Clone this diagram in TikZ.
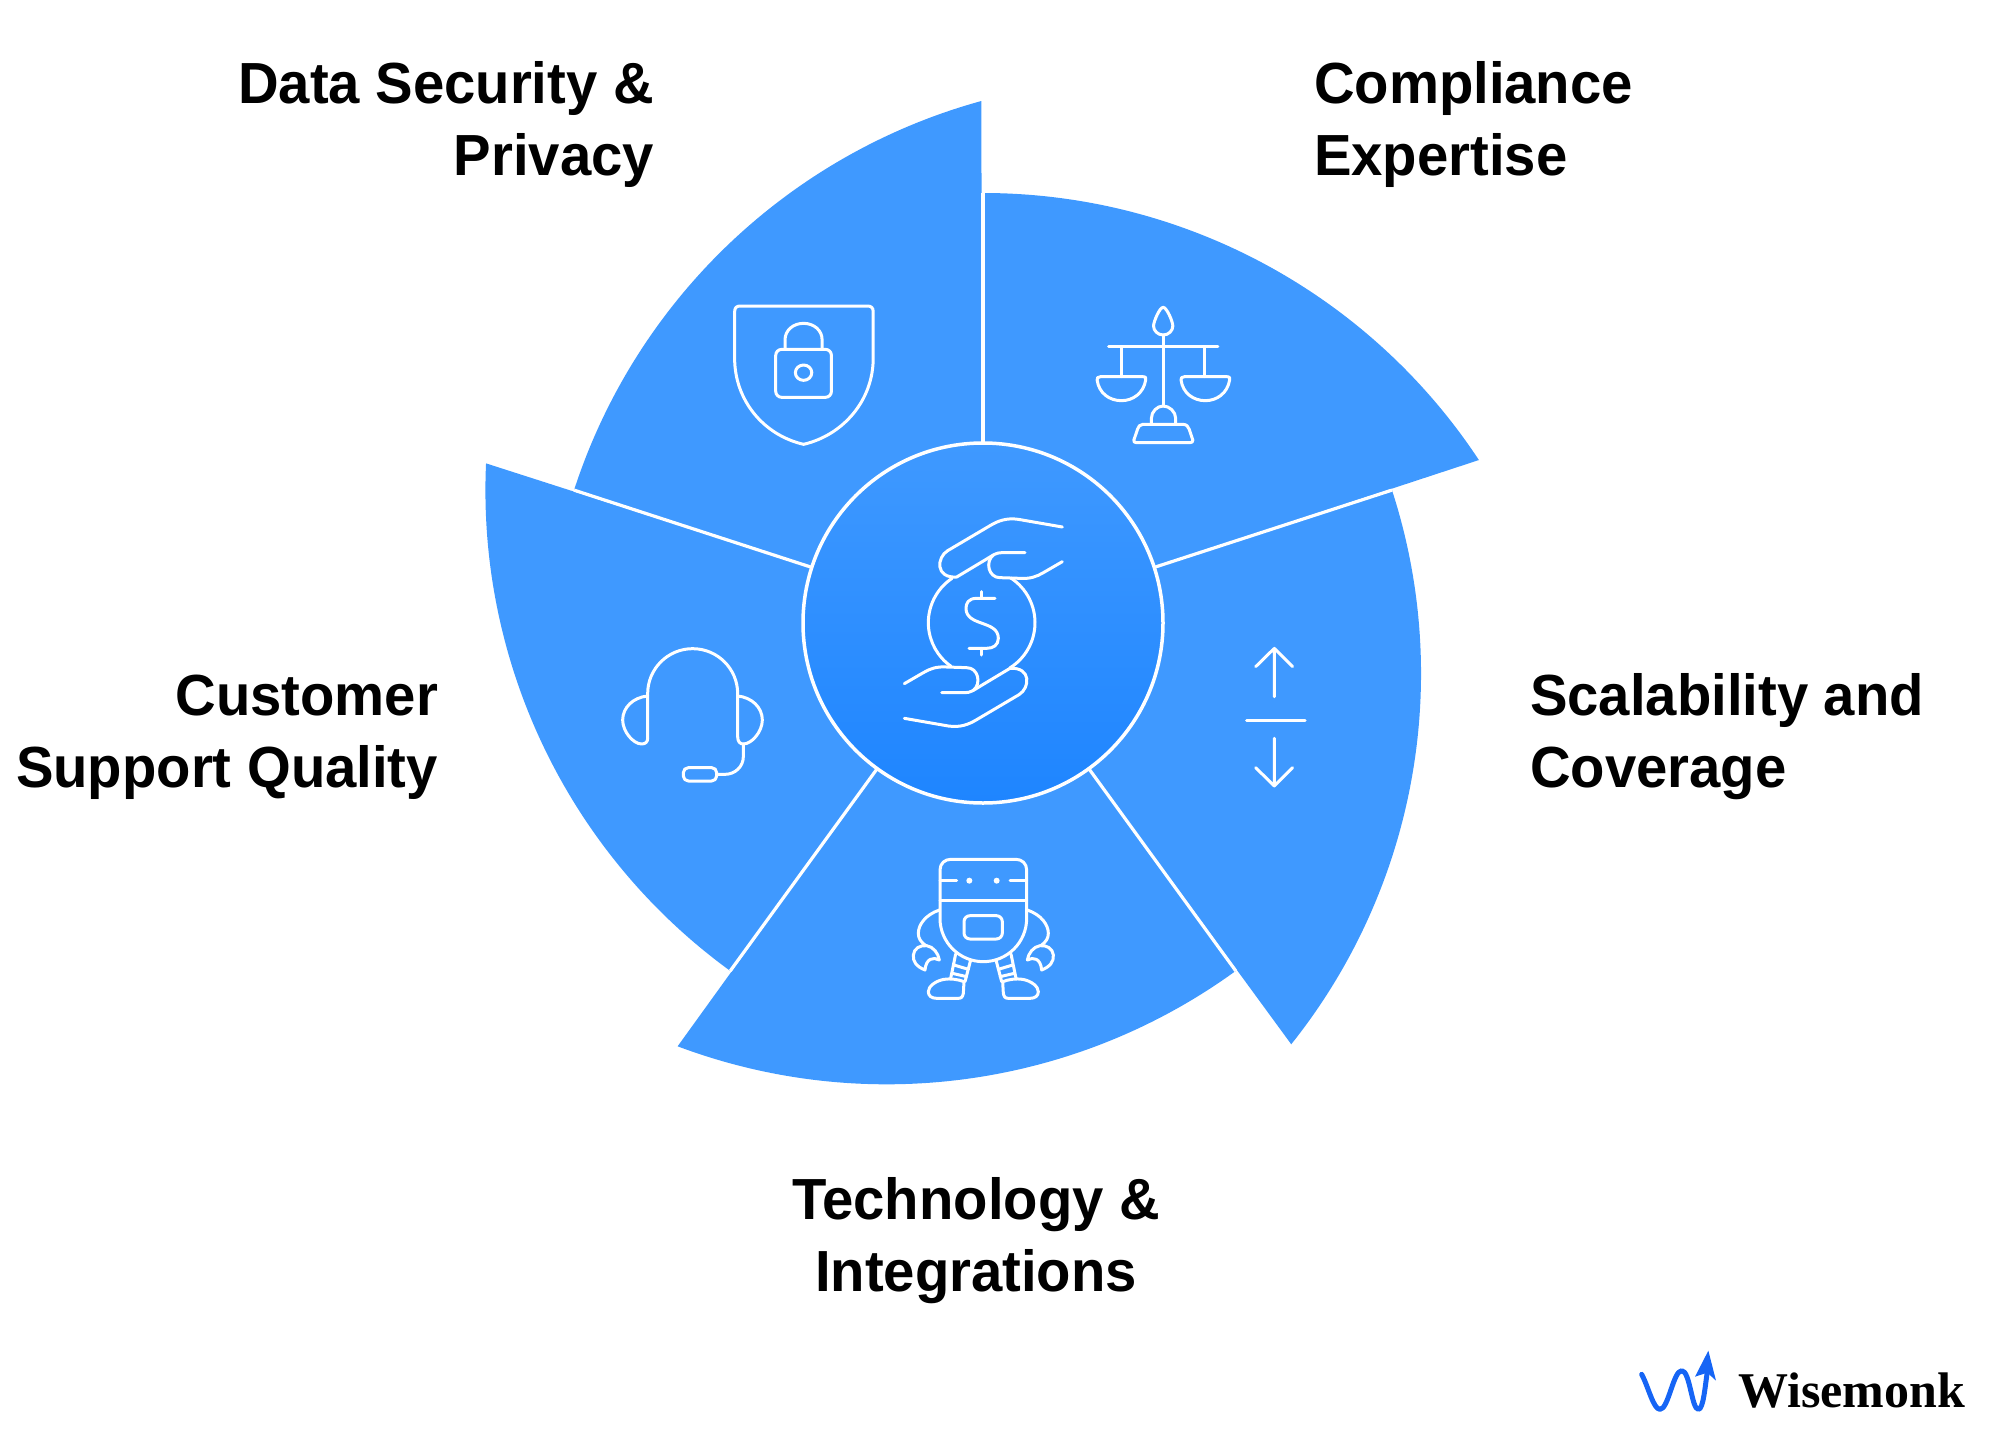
\documentclass[tikz,border=0pt]{standalone}
\usepackage{fontspec}
\setmainfont{Liberation Sans}
\newfontfamily\labelfont[FakeStretch=0.97]{Liberation Sans}
\newfontfamily\brandfont{Liberation Serif}
\definecolor{wedgeblue}{RGB}{63,153,255}
\definecolor{hubtop}{RGB}{63,153,255}
\definecolor{hubbottom}{RGB}{30,133,255}
\definecolor{logoblue}{RGB}{22,101,245}
\tikzset{
  wedge/.style={fill=wedgeblue,draw=none},
  divider/.style={draw=white,line width=3.2pt},
  icon/.style={draw=white,line width=3pt,line cap=round,line join=round},
  caption/.style={inner sep=0pt,outer sep=0pt,font=\labelfont\bfseries\fontsize{58}{72}\selectfont},
}
\begin{document}
\begin{tikzpicture}[x=1pt,y=-1pt]
\useasboundingbox (0,0) rectangle (1992,1443);
% wedges
\foreach \k in {0,1,2,3,4}{
  \begin{scope}[shift={(983,623)},y=1pt,rotate=-72*\k]
    \path[wedge] (0,0) -- (0,430) arc[start angle=90,end angle=33.4,radius=594pt] -- cycle;
  \end{scope}
}
\foreach \k in {0,1,2,3,4}{
  \begin{scope}[shift={(983,623)},y=1pt,rotate=-72*\k]
    \draw[divider] (0,150) -- (0,430);
  \end{scope}
}
\node[circle,minimum size=360pt,inner sep=0pt,draw=white,line width=3.5pt,top color=hubtop,bottom color=hubbottom] (hub) at (983,623) {};
% hub icon
\begin{scope}[shift={(780,430)},scale=1/3]
  \foreach \a in {0,180}{
    \begin{scope}[rotate around={\a:(610,578)}]
      \draw[icon] (847,291) -- (715,268) .. controls (680,263) and (655,272) .. (630,287) -- (503,362) .. controls (470,382) and (465,445) .. (530,441) -- (620,387) .. controls (640,375) and (648,368) .. (665,368) -- (735,368);
      \draw[icon] (640,375) .. controls (615,395) and (625,443) .. (660,443) -- (720,445) .. controls (750,447) and (770,440) .. (790,428) -- (847,395);
    \end{scope}
  }
  \draw[icon] (605,578) ++(124:160pt) arc[start angle=124,end angle=235,radius=160pt];
  \draw[icon] (605,578) ++(57:160pt) arc[start angle=57,end angle=-58,radius=160pt];
  \draw[icon] (645,505) -- (590,505) .. controls (565,505) and (558,520) .. (558,535) .. controls (558,590) and (655,570) .. (655,625) .. controls (655,645) and (640,655) .. (620,655) -- (567,655);
  \draw[icon] (605,485) -- (605,505) (605,655) -- (605,675);
\end{scope}
% shield and scales
\begin{scope}[shift={(690,280)},xscale=1/2.8,yscale=1/3]
  \draw[icon] (125,235) -- (125,95) .. controls (125,84) and (130,78) .. (140,78) -- (497,78) .. controls (508,78) and (513,84) .. (513,95) -- (513,235) .. controls (513,360) and (430,465) .. (318,493) .. controls (205,465) and (125,360) .. (125,235) -- cycle;
  \draw[icon,rounded corners=6pt] (240,208) rectangle (396,352);
  \draw[icon] (266,205) -- (266,180) .. controls (266,150) and (290,130) .. (318,130) .. controls (346,130) and (370,150) .. (370,180) -- (370,205);
  \draw[icon] (318,278) circle[radius=23pt];
  \draw[icon] (1325,82) .. controls (1335,82) and (1352,125) .. (1352,138) .. controls (1352,152) and (1340,165) .. (1325,165) .. controls (1310,165) and (1298,152) .. (1298,138) .. controls (1298,125) and (1315,82) .. (1325,82) -- cycle;
  \draw[icon] (1325,165) -- (1325,378) (1172,200) -- (1478,200) (1207,200) -- (1207,290) (1442,200) -- (1442,290);
  \foreach \d in {0,235}{
    \begin{scope}[xshift=\d]
      \draw[icon] (1150,290) -- (1268,290) .. controls (1278,290) and (1277,296) .. (1276,300) .. controls (1270,340) and (1240,362) .. (1208,362) .. controls (1175,362) and (1145,340) .. (1140,300) .. controls (1139,294) and (1142,290) .. (1150,290) -- cycle;
    \end{scope}
  }
  \draw[icon] (1292,432) -- (1292,415) .. controls (1292,395) and (1308,378) .. (1325,378) .. controls (1342,378) and (1360,395) .. (1360,415) -- (1360,432);
  \draw[icon] (1268,433) -- (1380,433) .. controls (1390,433) and (1396,440) .. (1398,448) -- (1408,480) .. controls (1409,485) and (1405,488) .. (1400,488) -- (1250,488) .. controls (1245,488) and (1241,485) .. (1243,480) -- (1253,448) .. controls (1255,440) and (1260,433) .. (1268,433) -- cycle;
\end{scope}
% headset
\begin{scope}[shift={(600,620)},scale=1/3]
  \draw[icon] (143,355) -- (143,221) arc[start angle=180,end angle=0,radius=135pt] -- (413,350);
  \draw[icon] (143,228) .. controls (100,232) and (68,262) .. (68,300) .. controls (68,335) and (100,372) .. (125,372) .. controls (137,372) and (143,365) .. (143,355);
  \draw[icon] (413,228) .. controls (455,232) and (487,262) .. (487,300) .. controls (487,335) and (455,372) .. (430,372) .. controls (420,372) and (413,365) .. (413,350);
  \draw[icon] (430,372) -- (430,410) .. controls (430,440) and (405,463) .. (375,463) -- (350,463);
  \draw[icon,rounded corners=5pt] (250,443) rectangle (350,483);
\end{scope}
% arrows
\begin{scope}[shift={(1220,630)},scale=1/3]
  \draw[icon] (163,200) -- (163,55) (107,110) -- (163,55) -- (218,110);
  \draw[icon] (80,271) -- (255,271);
  \draw[icon] (163,325) -- (163,468) (107,413) -- (163,468) -- (218,413);
\end{scope}
% robot
\begin{scope}[shift={(900,850)},scale=1/3]
  \draw[icon] (120,205) -- (120,60) .. controls (120,40) and (135,28) .. (152,28) -- (348,28) .. controls (365,28) and (380,40) .. (380,60) -- (380,205) arc[start angle=0,end angle=-180,radius=130pt];
  \draw[icon] (120,150) -- (380,150) (120,92) -- (170,92) (330,92) -- (380,92);
  \fill[white] (208,92) circle[radius=9pt] (290,92) circle[radius=9pt];
  \draw[icon,rounded corners=6pt] (192,197) rectangle (307,267);
  \foreach \s in {1,-1}{
    \begin{scope}[shift={(250,0)},xscale=\s]
      \draw[icon] (-132,180) .. controls (-175,195) and (-195,225) .. (-195,250) .. controls (-195,265) and (-188,275) .. (-175,285);
      \draw[icon] (-175,360) .. controls (-200,350) and (-212,335) .. (-210,315) .. controls (-208,295) and (-190,285) .. (-170,287) .. controls (-150,290) and (-135,310) .. (-132,330) .. controls (-150,320) and (-172,325) .. (-175,360) -- cycle;
      \draw[icon] (-83,312) -- (-98,385) (-38,330) -- (-55,395) (-88,345) -- (-45,358) (-93,370) -- (-50,380);
      \draw[icon] (-58,395) .. controls (-75,388) and (-100,385) .. (-118,388) .. controls (-145,393) and (-165,410) .. (-165,425) .. controls (-165,438) and (-155,445) .. (-140,445) -- (-75,445) .. controls (-65,445) and (-62,440) .. (-60,430) -- (-58,395) -- cycle;
    \end{scope}
  }
\end{scope}
% labels (the base of a two-line node is the base of its last line)
\node[caption,align=right,anchor=base east] (l1) at (654,175) {Data Security \&\\Privacy};
\node[caption,align=left,anchor=base west] (l2) at (1314,175) {Compliance\\Expertise};
\node[caption,align=right,anchor=base east] (l3) at (438,787) {Customer\\Support Quality};
\node[caption,align=left,anchor=base west] (l4) at (1530,787) {Scalability and\\Coverage};
\node[caption,align=center,anchor=base] (l5) at (976,1291) {Technology \&\\Integrations};
% logo
\begin{scope}[shift={(1620,1330)},scale=1/3]
  \draw[draw=logoblue,line width=5pt,line cap=round,line join=round] (65,133) .. controls (85,170) and (100,238) .. (120,238) .. controls (145,238) and (160,122) .. (185,122) .. controls (210,122) and (215,238) .. (235,238) .. controls (250,238) and (255,170) .. (262,125);
  \fill[logoblue] (265,62) -- (288,152) -- (262,128) -- (225,140) -- cycle;
\end{scope}
\node[inner sep=0pt,anchor=base west,font=\brandfont\bfseries\fontsize{50}{50}\selectfont] (brand) at (1738,1407) {Wisemonk};
\end{tikzpicture}
\end{document}
